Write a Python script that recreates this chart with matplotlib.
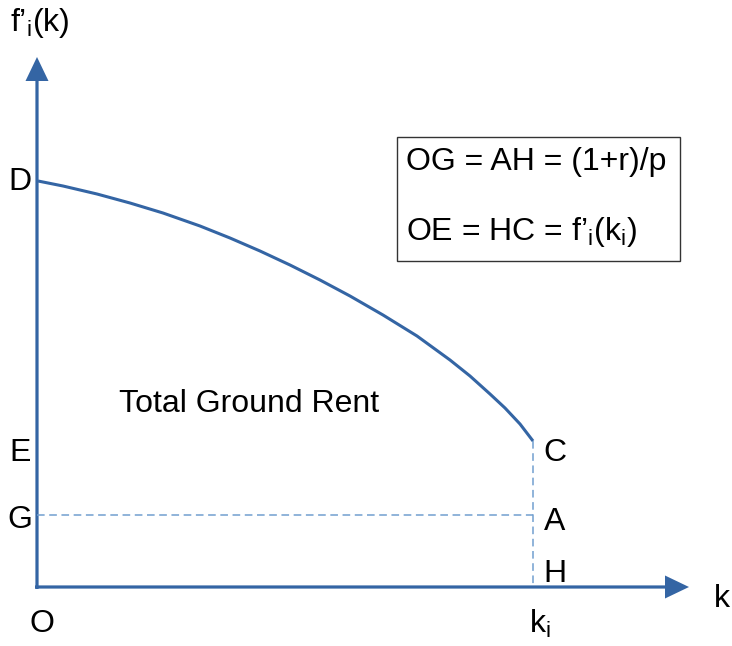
import matplotlib
matplotlib.use("Agg")
import matplotlib.pyplot as plt
from matplotlib.patches import Rectangle

plt.rcParams['font.family'] = ['Liberation Sans', 'DejaVu Sans']
plt.rcParams['mathtext.fontset'] = 'custom'
plt.rcParams['mathtext.rm'] = 'Liberation Sans'
plt.rcParams['mathtext.it'] = 'Liberation Sans'

# Curve f'_i(k) from D to C (pixel-like coordinates, y downward)
curve_x = [38, 63, 97, 130, 163, 200, 230, 260, 290, 320, 350, 383, 417, 450, 470, 490, 505, 520, 533]
curve_y = [181, 186, 194, 203, 213, 226, 238, 251, 265, 280, 296, 315, 336, 360, 376, 394, 408, 424, 441]

origin = (37, 587)
k_i = 533
level_G = 515
y_top = 57
x_right = 689

point_labels = ["D", "E", "G", "O", "C", "A", "H"]
point_pos = [(20, 182), (20, 453), (20, 520), (42, 624), (555, 453), (555, 522), (555, 574)]

BLUE = '#3465a4'
LIGHT = '#729fcf'
FS = 23

fig = plt.figure(figsize=(7.32, 6.46), dpi=100)
ax = fig.add_axes([0, 0, 1, 1])
ax.set_xlim(0, 732)
ax.set_ylim(646, 0)
ax.axis('off')

# dashed guide lines
ax.plot([origin[0], k_i], [level_G, level_G], color=LIGHT, lw=1.1, dashes=(5, 3))
ax.plot([k_i, k_i], [curve_y[-1], origin[1]], color=LIGHT, lw=1.1, dashes=(5, 3))

# curve
ax.plot(curve_x, curve_y, color=BLUE, lw=2.2, solid_capstyle='butt', solid_joinstyle='round')

# axes with arrows
ax.arrow(origin[0], origin[1] + 2, 0, y_top - origin[1] - 2, width=3.2, head_width=23,
         head_length=24, length_includes_head=True, color=BLUE, lw=0)
ax.arrow(origin[0] - 2, origin[1], x_right - origin[0] + 2, 0, width=3.2, head_width=23,
         head_length=24, length_includes_head=True, color=BLUE, lw=0)

# point labels
for lab, (x, y) in zip(point_labels, point_pos):
    ax.text(x, y, lab, fontsize=FS, ha='center', va='center')

ax.text(40, 23, "f’$_\\mathregular{i}$(k)", fontsize=FS, ha='center', va='center')
ax.text(722, 599, "k", fontsize=FS, ha='center', va='center')
ax.text(540, 624, "k$_\\mathregular{i}$", fontsize=FS, ha='center', va='center')
ax.text(249, 404, "Total Ground Rent", fontsize=FS, ha='center', va='center')

# formula box
ax.add_patch(Rectangle((397, 137), 283, 124, fill=False, edgecolor='#333333', lw=1.0))
ax.text(406, 162, "OG = AH = (1+r)/p", fontsize=FS, ha='left', va='center')
ax.text(406, 232, "OE = HC = f’$_\\mathregular{i}$(k$_\\mathregular{i}$)", fontsize=FS, ha='left', va='center')

fig.savefig("out.png", dpi=100)
